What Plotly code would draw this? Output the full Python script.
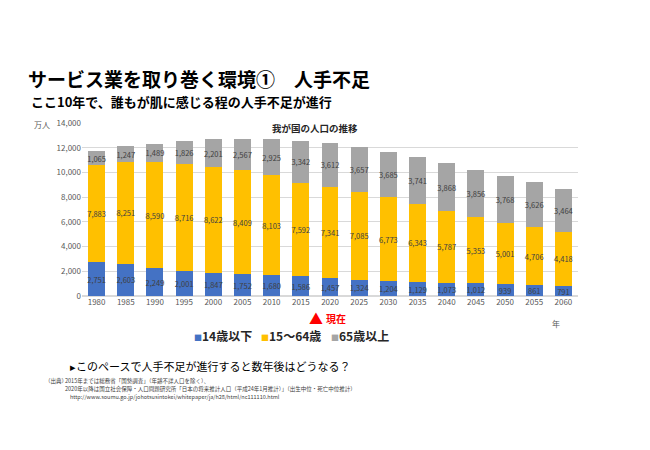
import plotly.graph_objects as go

years = ["1980", "1985", "1990", "1995", "2000", "2005", "2010", "2015", "2020",
         "2025", "2030", "2035", "2040", "2045", "2050", "2055", "2060"]
age_0_14 = [2751, 2603, 2249, 2001, 1847, 1752, 1680, 1586, 1457,
            1324, 1204, 1129, 1073, 1012, 939, 861, 791]
age_15_64 = [7883, 8251, 8590, 8716, 8622, 8409, 8103, 7592, 7341,
             7085, 6773, 6343, 5787, 5353, 5001, 4706, 4418]
age_65_plus = [1065, 1247, 1489, 1826, 2201, 2567, 2925, 3342, 3612,
               3657, 3685, 3741, 3868, 3856, 3768, 3626, 3464]
series_names = ["14歳以下", "15～64歳", "65歳以上"]
colors = ["#4472C4", "#FFC000", "#A5A5A5"]

FONT = "Noto Sans CJK JP"
W, H = 650, 450
L, R, T, B = 82, 578, 123, 296


def px(x):
    return (x - L) / (R - L)


def py(y):
    return (B - y) / (B - T)


fig = go.Figure()
for name, vals, col in zip(series_names, [age_0_14, age_15_64, age_65_plus], colors):
    fig.add_trace(go.Bar(
        x=years, y=vals, name=name, marker_color=col, marker_line_width=0,
        text=[f"{v:,}" for v in vals], textposition="inside",
        insidetextanchor="middle", textangle=0, constraintext="none",
        textfont=dict(size=7.5, color="#404040", family=FONT),
        hoverinfo="skip", showlegend=False,
    ))

fig.update_layout(
    width=W, height=H, barmode="stack", bargap=0.42,
    paper_bgcolor="white", plot_bgcolor="white",
    margin=dict(l=L, r=W - R, t=T, b=H - B, autoexpand=False),
    font=dict(family=FONT, color="#595959"),
    showlegend=False,
    xaxis=dict(showline=False, ticks="", tickfont=dict(size=8, color="#595959")),
    yaxis=dict(range=[0, 14000], dtick=2000, tickformat=",", showgrid=True,
               gridcolor="#D9D9D9", gridwidth=1, zeroline=True, zerolinecolor="#D9D9D9",
               ticks="", tickfont=dict(size=8, color="#595959")),
)

ann = [
    dict(text="<b>サービス業を取り巻く環境①　人手不足</b>", x=px(26), y=py(78), xanchor="left",
         font=dict(size=19, color="#000000")),
    dict(text="<b>ここ10年で、誰もが肌に感じる程の人手不足が進行</b>", x=px(29), y=py(101), xanchor="left",
         font=dict(size=13, color="#000000")),
    dict(text="万人", x=px(32), y=py(124), xanchor="left", font=dict(size=8, color="#595959")),
    dict(text="<b>我が国の人口の推移</b>", x=px(315), y=py(128), xanchor="center",
         font=dict(size=9.5, color="#262626")),
    dict(text="<b>▲</b>", x=px(316), y=py(318), xanchor="center", font=dict(size=14, color="#FF0000")),
    dict(text="<b>現在</b>", x=px(336), y=py(318), xanchor="center", font=dict(size=10, color="#FF0000")),
    dict(text="年", x=px(556), y=py(323), xanchor="center", font=dict(size=8, color="#595959")),
    dict(text="▸このペースで人手不足が進行すると数年後はどうなる？", x=px(68), y=py(366), xanchor="left",
         font=dict(size=11, color="#000000")),
    dict(text="（出典）", x=px(43), y=py(381), xanchor="left", font=dict(size=5.5, color="#404040")),
    dict(text="2015年までは総務省「国勢調査」（年齢不詳人口を除く）、", x=px(63), y=py(381),
         xanchor="left", font=dict(size=5.5, color="#404040")),
    dict(text="2020年以降は国立社会保障・人口問題研究所「日本の将来推計人口（平成24年1月推計）」（出生中位・死亡中位推計）",
         x=px(63), y=py(389), xanchor="left", font=dict(size=5.5, color="#404040")),
    dict(text="http://www.soumu.go.jp/johotsusintokei/whitepaper/ja/h28/html/nc111110.html",
         x=px(68), y=py(397), xanchor="left", font=dict(size=5.5, color="#404040")),
]
# legend drawn as text with coloured squares
legend_x = [192, 259, 329]
for name, col, lx in zip(series_names, colors, legend_x):
    ann.append(dict(
        text=f'<span style="color:{col};font-size:8px">■</span><b>{name}</b>',
        x=px(lx), y=py(335), xanchor="left", font=dict(size=12, color="#262626")))

for a in ann:
    a.update(xref="paper", yref="paper", showarrow=False, yanchor="middle")
    a["font"].setdefault("family", FONT)
    fig.add_annotation(**a)

fig.write_html("out.html", config={"displayModeBar": False},
               post_script="document.body.style.margin='0px';")
